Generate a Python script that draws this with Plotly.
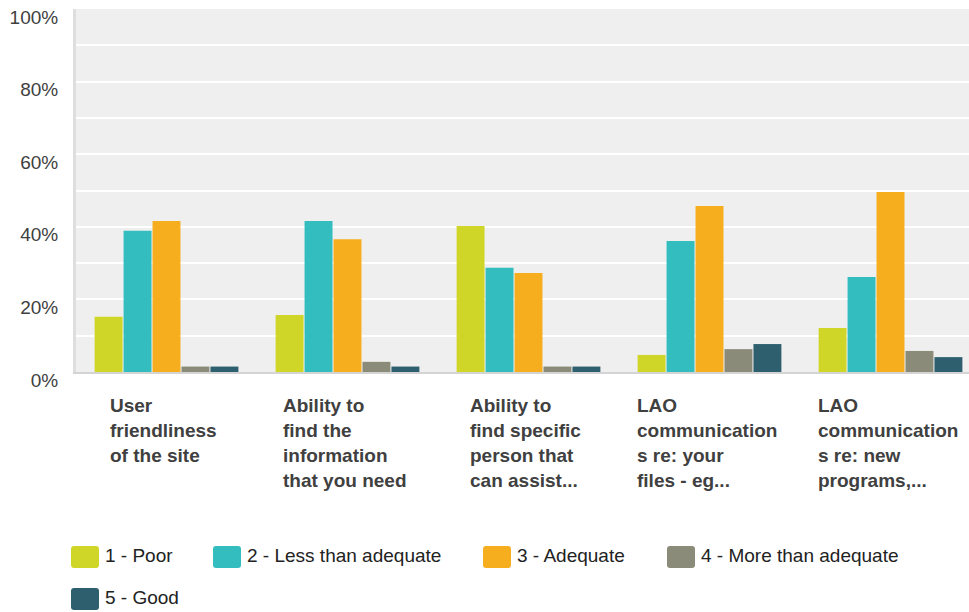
import plotly.graph_objects as go

# Survey questions (wrapped as they appear under each group)
category_lines = [
    ["User", "friendliness", "of the site"],
    ["Ability to", "find the", "information", "that you need"],
    ["Ability to", "find specific", "person that", "can assist..."],
    ["LAO", "communication", "s re: your", "files - eg..."],
    ["LAO", "communication", "s re: new", "programs,..."],
]
categories = [" ".join(lines) for lines in category_lines]

# Rating scale series (percent of responses)
series_names = ["1 - Poor", "2 - Less than adequate", "3 - Adequate",
                "4 - More than adequate", "5 - Good"]
poor = [15.2, 15.7, 40.2, 4.7, 12.1]
less_than_adequate = [38.9, 41.6, 28.7, 36.1, 26.2]
adequate = [41.6, 36.6, 27.3, 45.7, 49.6]
more_than_adequate = [1.5, 2.8, 1.5, 6.3, 5.8]
good = [1.5, 1.5, 1.5, 7.7, 4.1]
series_values = [poor, less_than_adequate, adequate, more_than_adequate, good]

y_tick_values = [0, 10, 20, 30, 40, 50, 60, 70, 80, 90, 100]
y_tick_labels = ["0%", "", "20%", "", "40%", "", "60%", "", "80%", "", "100%"]

colors = ["#d0d628", "#33bdbf", "#f6ae1f", "#8b8b7a", "#2e5f6e"]

FONT = "Arial, 'Liberation Sans', Helvetica, sans-serif"
W, H = 969, 612
M_L, M_R, M_T, M_B = 76, 0, 9, 240
PW, PH = W - M_L - M_R, H - M_T - M_B


def px_to_paper(x_px, y_px):
    return (x_px - M_L) / PW, (H - M_B - y_px) / PH


fig = go.Figure()
for name, vals, col in zip(series_names, series_values, colors):
    fig.add_trace(go.Bar(
        x=categories, y=vals, name=name,
        marker=dict(color=col, line=dict(width=0)),
        showlegend=False, hoverinfo="skip",
    ))

# Category labels: left-aligned block centred under each group
label_size = 19
line_gap = 25
for i, lines in enumerate(category_lines):
    txt = "<br>".join(f'<span style="font-size:{label_size}px">{ln}</span>' for ln in lines)
    fig.add_annotation(
        x=i, xref="x", y=0, yref="paper", yanchor="top", xanchor="center",
        xshift=-3, yshift=-21, text=f"<b>{txt}</b>", align="left", showarrow=False,
        font=dict(family=FONT, size=line_gap / 1.3, color="#404040"),
    )

# Legend: rounded swatches with labels, laid out in two rows
legend_slots = [(71, 546), (213, 546), (483, 546), (667, 546), (71, 588)]
sw_w, sw_h, r = 28, 22, 3
for (lx, ly), name, col in zip(legend_slots, series_names, colors):
    ax, ay = px_to_paper(lx, ly + sw_h)
    path = (f"M{r},0 L{sw_w - r},0 Q{sw_w},0 {sw_w},{r} L{sw_w},{sw_h - r} "
            f"Q{sw_w},{sw_h} {sw_w - r},{sw_h} L{r},{sw_h} Q0,{sw_h} 0,{sw_h - r} "
            f"L0,{r} Q0,0 {r},0 Z")
    fig.add_shape(type="path", xref="paper", yref="paper",
                  xsizemode="pixel", ysizemode="pixel", xanchor=ax, yanchor=ay,
                  path=path, fillcolor=col, line=dict(width=0), layer="above")
    tx, ty = px_to_paper(lx + 32, ly + 9)
    fig.add_annotation(x=tx, y=ty, xref="paper", yref="paper",
                       xanchor="left", yanchor="middle", text=name,
                       showarrow=False,
                       font=dict(family=FONT, size=19, color="#222222"))

fig.update_layout(
    width=W, height=H,
    margin=dict(l=M_L, r=M_R, t=M_T, b=M_B, pad=0),
    paper_bgcolor="white", plot_bgcolor="#efefef",
    barmode="group", bargap=0.2, bargroupgap=0.035,
    font=dict(family=FONT, color="#404040"),
)
fig.update_xaxes(
    range=[-0.5, -0.5 + PW / 181.0], showticklabels=False, showgrid=False,
    showline=True, linecolor="#d4d4d4", linewidth=2, zeroline=False, ticks="",
)
fig.update_yaxes(
    range=[0, 100], tickvals=y_tick_values, ticktext=y_tick_labels,
    showgrid=True, gridcolor="white", gridwidth=2, zeroline=False,
    showline=True, linecolor="#dedede", linewidth=3, ticks="",
    tickfont=dict(family=FONT, size=19, color="#404040"),
    ticklabelstandoff=11, ticklabelshift=8,
)

fig.write_html("out.html")
